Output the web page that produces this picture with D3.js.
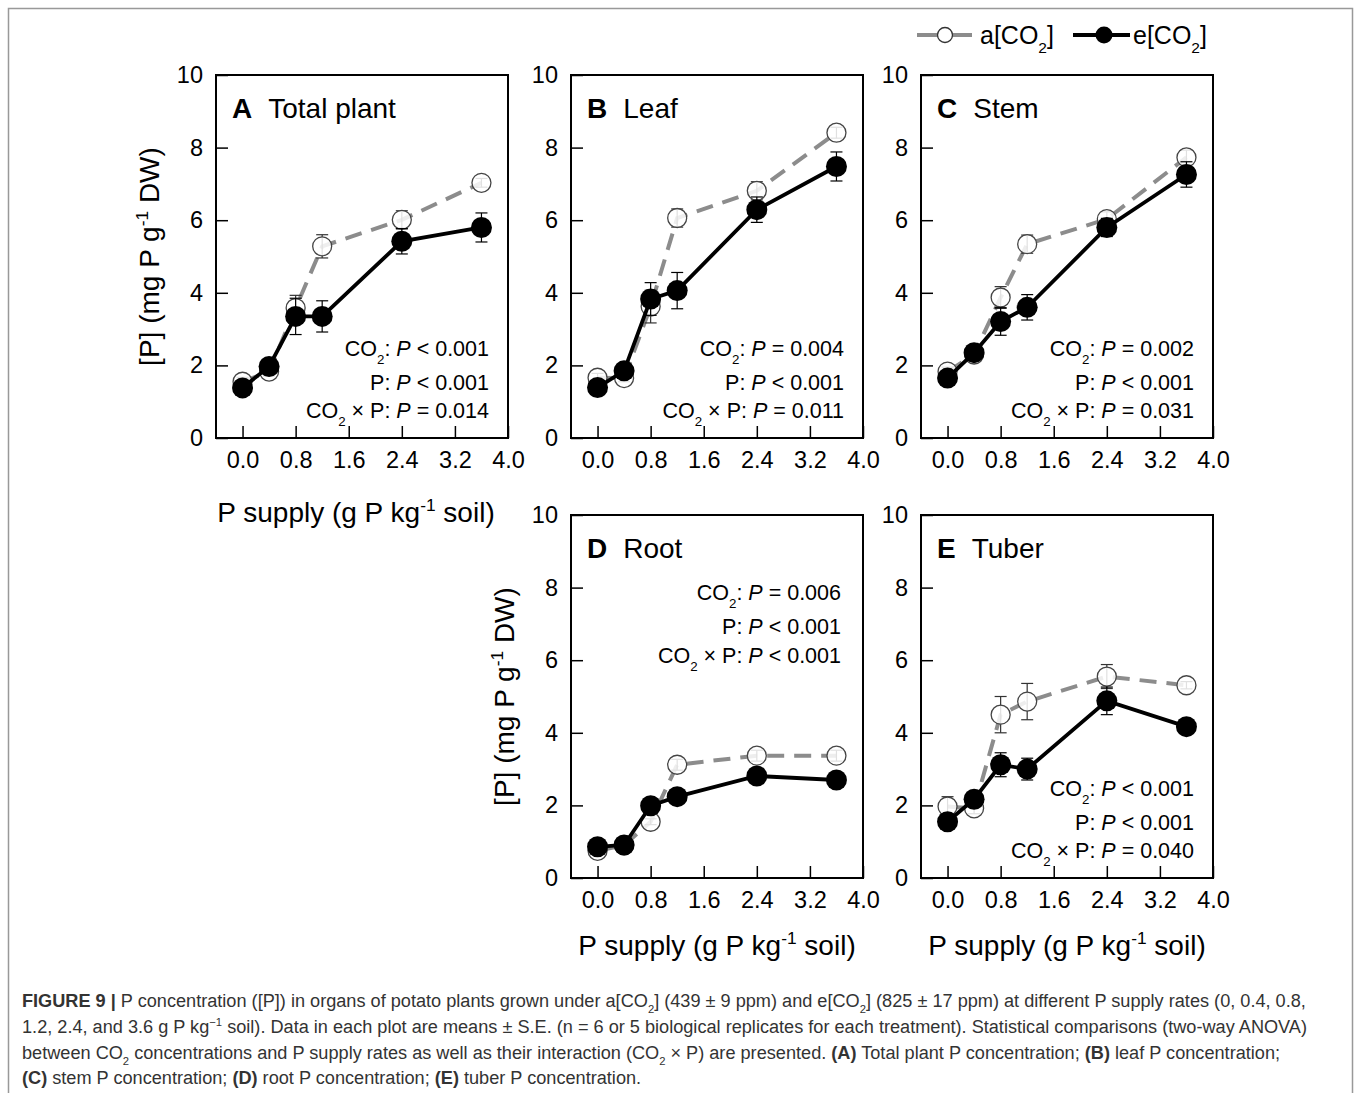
<!DOCTYPE html>
<html>
<head>
<meta charset="utf-8">
<script src="https://cdn.jsdelivr.net/npm/d3@7"></script>
<style>
  body { margin: 0; background: #fff; }
  text { font-family: "Liberation Sans", Arial, sans-serif; }
</style>
</head>
<body>
<div class="figure"></div>
<script>
// DATA
const pSupply = [0, 0.4, 0.8, 1.2, 2.4, 3.6];
const xTicks = [0, 0.8, 1.6, 2.4, 3.2, 4.0];
const yTicks = [0, 2, 4, 6, 8, 10];

const panelLetters = ["A", "B", "C", "D", "E"];
const panelNames = ["Total plant", "Leaf", "Stem", "Root", "Tuber"];

// a[CO2] means and S.E.
const totalAmb = [1.55, 1.83, 3.58, 5.28, 6.01, 7.03];
const totalAmbSE = [0.12, 0.12, 0.35, 0.32, 0.25, 0.12];
const leafAmb = [1.66, 1.65, 3.62, 6.06, 6.81, 8.41];
const leafAmbSE = [0.12, 0.1, 0.45, 0.25, 0.25, 0.15];
const stemAmb = [1.83, 2.3, 3.87, 5.34, 6.03, 7.73];
const stemAmbSE = [0.12, 0.1, 0.3, 0.25, 0.2, 0.2];
const rootAmb = [0.75, 0.9, 1.55, 3.12, 3.37, 3.37];
const rootAmbSE = [0.1, 0.05, 0.08, 0.15, 0.15, 0.15];
const tuberAmb = [1.97, 1.92, 4.5, 4.86, 5.55, 5.31];
const tuberAmbSE = [0.27, 0.15, 0.5, 0.5, 0.33, 0.1];

// e[CO2] means and S.E.
const totalElev = [1.38, 1.97, 3.35, 3.35, 5.42, 5.8];
const totalElevSE = [0.1, 0.1, 0.5, 0.43, 0.35, 0.4];
const leafElev = [1.39, 1.85, 3.83, 4.06, 6.29, 7.48];
const leafElevSE = [0.1, 0.1, 0.45, 0.5, 0.35, 0.4];
const stemElev = [1.65, 2.35, 3.21, 3.6, 5.8, 7.26];
const stemElevSE = [0.1, 0.15, 0.38, 0.35, 0.25, 0.35];
const rootElev = [0.86, 0.91, 1.99, 2.24, 2.81, 2.7];
const rootElevSE = [0.08, 0.06, 0.1, 0.1, 0.1, 0.12];
const tuberElev = [1.55, 2.17, 3.12, 3.0, 4.88, 4.17];
const tuberElevSE = [0.1, 0.15, 0.33, 0.3, 0.38, 0.1];

// two-way ANOVA results
const statCO2 = ["< 0.001", "= 0.004", "= 0.002", "= 0.006", "< 0.001"];
const statP = ["< 0.001", "< 0.001", "< 0.001", "< 0.001", "< 0.001"];
const statInt = ["= 0.014", "= 0.011", "= 0.031", "< 0.001", "= 0.040"];

const ambSeries = [totalAmb, leafAmb, stemAmb, rootAmb, tuberAmb];
const ambErr = [totalAmbSE, leafAmbSE, stemAmbSE, rootAmbSE, tuberAmbSE];
const elevSeries = [totalElev, leafElev, stemElev, rootElev, tuberElev];
const elevErr = [totalElevSE, leafElevSE, stemElevSE, rootElevSE, tuberElevSE];

//LAYOUT
const outerWidth = 1355, outerHeight = 1093;
const W = 292, H = 363;
const colX = [216, 571, 921];
const rowY = [75, 515];
const layout = [
  {col: 0, row: 0, ylab: true, xlab: true, statsTop: false, xlabShift: -6},
  {col: 1, row: 0, ylab: false, xlab: false, statsTop: false},
  {col: 2, row: 0, ylab: false, xlab: false, statsTop: false},
  {col: 1, row: 1, ylab: true, xlab: true, statsTop: true, xlabShift: 0},
  {col: 2, row: 1, ylab: false, xlab: true, statsTop: false, xlabShift: 0}
];

const svg = d3.select('.figure').append('svg')
  .attr('width', outerWidth)
  .attr('height', outerHeight);

// outer frame (top, left, right edges)
svg.append('path')
  .attr('d', `M8.5,${outerHeight} V8.5 H1352.5 V${outerHeight}`)
  .attr('fill', 'none')
  .attr('stroke', '#999')
  .attr('stroke-width', 1.5);

const xScale = d3.scaleLinear().domain([-0.4, 4.0]).range([0, W]);
const yScale = d3.scaleLinear().domain([0, 10]).range([H, 0]);

// writes rich text pieces: [text, style] where style = b | i | sub | sup
function rich(sel, parts, size) {
  let back = 0; // baseline shift to undo on the next piece
  parts.forEach(p => {
    const t = sel.append('tspan').text(p[0]);
    const s = p[1] || '';
    if (s === 'b') t.attr('font-weight', 'bold');
    if (s === 'i') t.attr('font-style', 'italic');
    if (s === 'sub' || s === 'sup') {
      const shift = s === 'sub' ? size * 0.35 : -size * 0.4;
      t.attr('font-size', size * 0.62).attr('dy', shift - back);
      back = shift;
    } else if (back !== 0) {
      t.attr('dy', -back);
      back = 0;
    }
  });
  return sel;
}

const line = d3.line().x((d, i) => xScale(pSupply[i])).y(d => yScale(d));

layout.forEach((L, k) => {
  const g = svg.append('g')
    .attr('transform', `translate(${colX[L.col]},${rowY[L.row]})`);

  // axes
  const xAxis = d3.axisBottom(xScale)
    .tickValues(xTicks)
    .tickFormat(d3.format('.1f'))
    .tickSizeInner(-12)
    .tickSizeOuter(0)
    .tickPadding(12);
  const yAxis = d3.axisLeft(yScale)
    .tickValues(yTicks)
    .tickSizeInner(-12)
    .tickSizeOuter(0)
    .tickPadding(12);

  const gx = g.append('g').attr('class', 'axis x-axis')
    .attr('transform', `translate(0,${H})`).call(xAxis);
  const gy = g.append('g').attr('class', 'axis y-axis').call(yAxis);
  [gx, gy].forEach(a => {
    a.attr('font-size', null).attr('font-family', null);
    a.select('.domain').remove();
    a.selectAll('line').attr('stroke', '#000').attr('stroke-width', 1.5);
    a.selectAll('text')
      .attr('font-size', 23.5)
      .attr('fill', '#000');
  });
  gx.selectAll('text').attr('dy', '0.71em').attr('y', 13);
  gy.selectAll('text').attr('x', -13);

  g.append('rect')
    .attr('width', W).attr('height', H)
    .attr('fill', 'none').attr('stroke', '#000').attr('stroke-width', 2);

  // a[CO2] : grey dashed, open circles
  g.append('path')
    .datum(ambSeries[k])
    .attr('d', line)
    .attr('fill', 'none')
    .attr('stroke', '#8c8c8c')
    .attr('stroke-width', 4)
    .attr('stroke-dasharray', '17,10');

  function errBars(vals, errs, color) {
    const eb = g.append('g');
    vals.forEach((v, i) => {
      const x = xScale(pSupply[i]);
      const y1 = yScale(v + errs[i]), y0 = yScale(v - errs[i]);
      eb.append('line').attr('x1', x).attr('x2', x).attr('y1', y1).attr('y2', y0);
      eb.append('line').attr('x1', x - 6).attr('x2', x + 6).attr('y1', y1).attr('y2', y1);
      eb.append('line').attr('x1', x - 6).attr('x2', x + 6).attr('y1', y0).attr('y2', y0);
    });
    eb.selectAll('line').attr('stroke', color).attr('stroke-width', 1.2);
  }

  errBars(ambSeries[k], ambErr[k], '#333');
  g.append('g').selectAll('circle')
    .data(ambSeries[k])
    .enter()
    .append('circle')
    .attr('cx', (d, i) => xScale(pSupply[i]))
    .attr('cy', d => yScale(d))
    .attr('r', 9.5)
    .attr('fill', '#fff')
    .attr('fill-opacity', 0.85)
    .attr('stroke', '#444')
    .attr('stroke-width', 1.3);

  // e[CO2] : black solid, filled circles
  g.append('path')
    .datum(elevSeries[k])
    .attr('d', line)
    .attr('fill', 'none')
    .attr('stroke', '#000')
    .attr('stroke-width', 3.8);
  errBars(elevSeries[k], elevErr[k], '#000');
  g.append('g').selectAll('circle')
    .data(elevSeries[k])
    .enter()
    .append('circle')
    .attr('cx', (d, i) => xScale(pSupply[i]))
    .attr('cy', d => yScale(d))
    .attr('r', 10.5)
    .attr('fill', '#000');

  // panel title
  const title = g.append('text')
    .attr('x', 16).attr('y', 43)
    .attr('font-size', 28);
  title.append('tspan').attr('font-weight', 'bold').text(panelLetters[k]);
  title.append('tspan').attr('dx', 16).text(panelNames[k]);

  // stats
  const sy = L.statsTop ? [85, 119, 148] : [281, 315, 343];
  const sx = L.statsTop ? W - 22 : W - 19;
  const lines = [
    [['CO'], ['2', 'sub'], [': '], ['P', 'i'], [' ' + statCO2[k]]],
    [['P: '], ['P', 'i'], [' ' + statP[k]]],
    [['CO'], ['2', 'sub'], [' \u00d7 P: '], ['P', 'i'], [' ' + statInt[k]]]
  ];
  lines.forEach((parts, j) => {
    const t = g.append('text')
      .attr('x', sx).attr('y', sy[j])
      .attr('text-anchor', 'end')
      .attr('font-size', 21.5);
    rich(t, parts, 21.5);
  });

  // axis titles
  if (L.ylab) {
    const yl = g.append('text')
      .attr('transform', `translate(-57,${H / 2}) rotate(-90)`)
      .attr('text-anchor', 'middle')
      .attr('font-size', 28);
    rich(yl, [['[P] (mg P g'], ['-1', 'sup'], [' DW)']], 28);
  }
  if (L.xlab) {
    const xl = g.append('text')
      .attr('x', W / 2 + L.xlabShift)
      .attr('y', H + (L.row === 0 ? 84 : 77))
      .attr('text-anchor', 'middle')
      .attr('font-size', 28);
    rich(xl, [['P supply (g P kg'], ['-1', 'sup'], [' soil)']], 28);
  }
});

// LEGEND
const leg = svg.append('g').attr('class', 'legend');
leg.append('line').attr('x1', 917).attr('x2', 972).attr('y1', 35).attr('y2', 35)
  .attr('stroke', '#8c8c8c').attr('stroke-width', 4);
leg.append('circle').attr('cx', 945).attr('cy', 35).attr('r', 7.5)
  .attr('fill', '#fff').attr('stroke', '#333').attr('stroke-width', 1.3);
rich(leg.append('text').attr('x', 980).attr('y', 44).attr('font-size', 25),
  [['a[CO'], ['2', 'sub'], [']']], 25);
leg.append('line').attr('x1', 1073).attr('x2', 1130).attr('y1', 35).attr('y2', 35)
  .attr('stroke', '#000').attr('stroke-width', 3.8);
leg.append('circle').attr('cx', 1104).attr('cy', 35).attr('r', 8.5).attr('fill', '#000');
rich(leg.append('text').attr('x', 1133).attr('y', 44).attr('font-size', 25),
  [['e[CO'], ['2', 'sub'], [']']], 25);

// CAPTION
const captionLines = [
  [['FIGURE 9 |', 'b'], [' P concentration ([P]) in organs of potato plants grown under a[CO'], ['2', 'sub'],
   ['] (439 \u00b1 9 ppm) and e[CO'], ['2', 'sub'], ['] (825 \u00b1 17 ppm) at different P supply rates (0, 0.4, 0.8,']],
  [['1.2, 2.4, and 3.6 g P kg'], ['\u22121', 'sup'],
   [' soil). Data in each plot are means \u00b1 S.E. (n = 6 or 5 biological replicates for each treatment). Statistical comparisons (two-way ANOVA)']],
  [['between CO'], ['2', 'sub'], [' concentrations and P supply rates as well as their interaction (CO'], ['2', 'sub'],
   [' \u00d7 P) are presented. '], ['(A)', 'b'], [' Total plant P concentration; '], ['(B)', 'b'], [' leaf P concentration;']],
  [['(C)', 'b'], [' stem P concentration; '], ['(D)', 'b'], [' root P concentration; '], ['(E)', 'b'], [' tuber P concentration.']]
];
const capY = [1007, 1033, 1059, 1084];
const capG = svg.append('g').attr('class', 'caption');
function drawCaption(size) {
  capG.selectAll('*').remove();
  return captionLines.map((parts, i) => {
    const t = capG.append('text')
      .attr('x', 22).attr('y', capY[i])
      .attr('fill', '#333')
      .attr('font-size', size);
    return rich(t, parts, size);
  });
}
// fit first caption line to its width in the figure
const w0 = drawCaption(16)[0].node().getComputedTextLength();
drawCaption(16 * 1285 / w0);
</script>
</body>
</html>
